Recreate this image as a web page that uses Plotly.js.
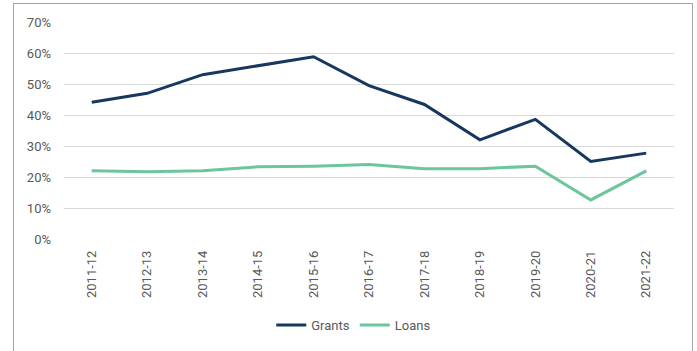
<!DOCTYPE html>
<html>
<head>
<meta charset="utf-8">
<script src="https://cdn.plot.ly/plotly-3.0.1.min.js"></script>
<style>
html,body{margin:0;padding:0;background:#fff;}
#wrap{position:relative;width:697px;height:351px;}
#chart{position:absolute;left:0;top:0;width:697px;height:351px;}
#frame{position:absolute;left:13px;top:3px;width:678px;height:347px;border:1px solid #a6a6a6;pointer-events:none;}
</style>
</head>
<body>
<div id="wrap"><div id="chart"></div><div id="frame"></div></div>
<script>
const years = ["2011-12","2012-13","2013-14","2014-15","2015-16","2016-17","2017-18","2018-19","2019-20","2020-21","2021-22"];
const grants = [44.1, 47.0, 53.0, 56.0, 58.8, 49.5, 43.4, 32.0, 38.6, 25.0, 27.7];
const loans = [22.0, 21.7, 22.0, 23.3, 23.5, 24.0, 22.7, 22.7, 23.5, 12.6, 22.0];
const yTicks = [0,10,20,30,40,50,60,70];

const font = {family: "Roboto, sans-serif", size: 13, color: "#595959"};

const traces = [
  {x: years, y: grants, name: "Grants", type: "scatter", mode: "lines",
   line: {color: "#17375e", width: 3}},
  {x: years, y: loans, name: "Loans", type: "scatter", mode: "lines",
   line: {color: "#6cc59b", width: 3}}
];

const layout = {
  width: 697, height: 351,
  margin: {l: 64, r: 23, t: 22, b: 111},
  paper_bgcolor: "#fff", plot_bgcolor: "#fff",
  font: font,
  showlegend: true,
  legend: {orientation: "h", x: 0.475, xanchor: "center", y: -0.39, yanchor: "middle",
           font: font, itemwidth: 30, tracegroupgap: 0},
  xaxis: {type: "category", range: [-0.5, 10.5], tickangle: -90, showgrid: false, zeroline: false,
          showline: false, ticks: "", tickfont: font, ticklabelstandoff: 8, fixedrange: true},
  yaxis: {range: [0, 70], tickvals: yTicks, ticktext: yTicks.map(v => v + "%"),
          showgrid: true, gridcolor: "#d9d9d9", gridwidth: 1, zeroline: false,
          showline: false, ticks: "", tickfont: font, ticklabelstandoff: 12, fixedrange: true},
};

Plotly.newPlot("chart", traces, layout, {displayModeBar: false, staticPlot: true});
</script>
</body>
</html>
